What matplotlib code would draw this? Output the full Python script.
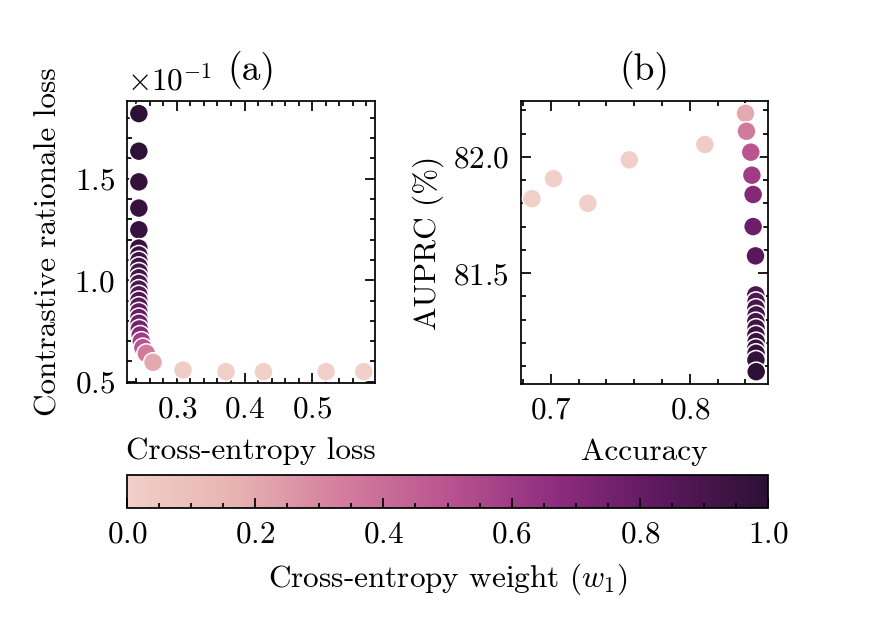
import matplotlib
matplotlib.use("Agg")
import matplotlib.pyplot as plt
import matplotlib as mpl
from matplotlib.ticker import AutoMinorLocator
from matplotlib.colors import LinearSegmentedColormap
import numpy as np

# ---------------- data ----------------
# Panel (a): cross-entropy loss vs contrastive rationale loss
w_a = [1.0, 0.99, 0.98, 0.97, 0.96, 0.95, 0.94, 0.93, 0.92, 0.91, 0.90, 0.89,
       0.88, 0.87, 0.86, 0.84, 0.82, 0.80, 0.78, 0.75, 0.70, 0.60, 0.50, 0.35,
       0.20, 0.02, 0.01, 0.0, 0.0, 0.0]
ce_loss = [0.244, 0.244, 0.244, 0.244, 0.244, 0.244, 0.244, 0.244, 0.244, 0.244,
           0.244, 0.244, 0.244, 0.244, 0.244, 0.244, 0.244, 0.244, 0.2443, 0.2447,
           0.246, 0.2477, 0.250, 0.255, 0.265, 0.3093, 0.3726, 0.4279, 0.5203, 0.576]
contrast_loss = [0.1820, 0.1635, 0.1484, 0.1355, 0.1248, 0.1158, 0.1124, 0.1096,
                 0.1068, 0.1040, 0.1012, 0.0984, 0.0956, 0.0928, 0.0900, 0.0872,
                 0.0844, 0.0816, 0.0788, 0.0760, 0.0730, 0.0700, 0.0668, 0.0640,
                 0.0596, 0.0558, 0.0550, 0.0550, 0.0550, 0.0550]

# Panel (b): accuracy vs AUPRC
w_b = [0.0, 0.0, 0.0, 0.01, 0.02, 0.20, 0.35, 0.50, 0.60, 0.70, 0.78, 0.84,
       0.88, 0.89, 0.90, 0.91, 0.92, 0.93, 0.94, 0.95, 0.96, 0.97, 0.98, 1.0]
accuracy = [0.6864, 0.7019, 0.7266, 0.7564, 0.8108, 0.8400, 0.8407, 0.8438,
            0.8446, 0.8455, 0.8455, 0.8472, 0.8474, 0.8476, 0.8475, 0.8477,
            0.8474, 0.8476, 0.8475, 0.8477, 0.8474, 0.8476, 0.8475, 0.8477]
auprc = [81.82, 81.906, 81.80, 81.987, 82.053, 82.187, 82.11, 82.02, 81.921,
         81.838, 81.70, 81.574, 81.406, 81.378, 81.349, 81.320, 81.291, 81.263,
         81.234, 81.205, 81.177, 81.155, 81.126, 81.076]

cbar_ticks = [0.0, 0.2, 0.4, 0.6, 0.8, 1.0]

# colormap anchors (pink -> dark purple)
cmap_pos = [0.0, 0.17, 0.33, 0.5, 0.67, 0.83, 1.0]
cmap_cols = ["#f0d0c9", "#e8b2b3", "#d47f9e", "#b95490", "#8e2c7e", "#5d195e", "#2d1035"]

# ---------------- style ----------------
plt.rcParams.update({
    "font.family": "serif",
    "font.serif": ["cmr10"],
    "mathtext.fontset": "cm",
    "axes.formatter.use_mathtext": True,
    "font.size": 9,
    "axes.linewidth": 0.5,
    "xtick.direction": "in",
    "ytick.direction": "in",
    "xtick.major.size": 3,
    "ytick.major.size": 3,
    "xtick.minor.size": 1.5,
    "ytick.minor.size": 1.5,
    "xtick.major.width": 0.5,
    "ytick.major.width": 0.5,
    "xtick.minor.width": 0.5,
    "ytick.minor.width": 0.5,
    "xtick.top": True,
    "ytick.right": True,
    "xtick.minor.visible": True,
    "ytick.minor.visible": True,
})

cmap = LinearSegmentedColormap.from_list("pinkpurple", list(zip(cmap_pos, cmap_cols)))
norm = mpl.colors.Normalize(vmin=0, vmax=1)

fig = plt.figure(figsize=(3.504, 2.48), dpi=250)
W, H = 876, 620
def rect(x0, y0, x1, y1):
    return [x0 / W, 1 - y1 / H, (x1 - x0) / W, (y1 - y0) / H]

ax_a = fig.add_axes(rect(127, 101, 375, 383))
ax_b = fig.add_axes(rect(521, 101, 768, 384))
cax = fig.add_axes(rect(127, 475, 768, 508))

ms = 30
ax_a.scatter(ce_loss, contrast_loss, c=w_a, cmap=cmap, norm=norm, s=ms,
             edgecolors="white", linewidths=0.45, zorder=3)
ax_a.set_xlim(0.2265, 0.5926)
ax_a.set_ylim(0.0494, 0.1882)
ax_a.ticklabel_format(style="sci", axis="y", scilimits=(0, 0))
ax_a.set_xticks([0.3, 0.4, 0.5])
ax_a.set_yticks([0.05, 0.10, 0.15])
ax_a.xaxis.set_minor_locator(AutoMinorLocator(5))
ax_a.yaxis.set_minor_locator(AutoMinorLocator(5))
ax_a.set_xlabel("Cross-entropy loss", labelpad=4)
ax_a.set_ylabel("Contrastive rationale loss", labelpad=3.5)
ax_a.set_title("(a)")

ax_b.scatter(accuracy, auprc, c=w_b, cmap=cmap, norm=norm, s=ms,
             edgecolors="white", linewidths=0.45, zorder=3)
ax_b.set_xlim(0.6785, 0.8562)
ax_b.set_ylim(81.023, 82.24)
ax_b.set_xticks([0.7, 0.8])
ax_b.set_yticks([81.5, 82.0])
ax_b.xaxis.set_minor_locator(AutoMinorLocator(5))
ax_b.yaxis.set_minor_locator(AutoMinorLocator(5))
ax_b.set_xlabel("Accuracy", labelpad=4)
ax_b.set_ylabel("AUPRC (%)", labelpad=2.5)
ax_b.set_title("(b)")

sm = mpl.cm.ScalarMappable(norm=norm, cmap=cmap)
cb = fig.colorbar(sm, cax=cax, orientation="horizontal")
cb.set_ticks(cbar_ticks)
cb.ax.xaxis.set_minor_locator(AutoMinorLocator(4))
cb.ax.tick_params(axis="x", which="both", top=False, bottom=True, direction="in")
cb.outline.set_linewidth(0.5)
cb.set_label("Cross-entropy weight ($w_1$)")

fig.savefig("out.png", dpi=250)
